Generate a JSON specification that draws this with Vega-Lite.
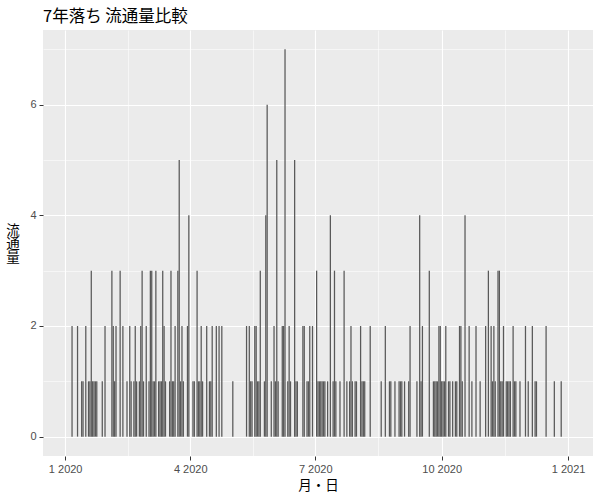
{
  "$schema": "https://vega.github.io/schema/vega-lite/v6.json",
  "width": 550,
  "height": 426,
  "autosize": {"type": "none"},
  "padding": {"left": 43, "top": 30, "right": 7, "bottom": 44},
  "background": "white",
  "config": {
    "view": {"fill": "#EBEBEB", "stroke": null},
    "axis": {"domain": false, "labelColor": "#4D4D4D", "labelFont": "Liberation Sans", "labelFontSize": 11, "tickColor": "#333333", "tickSize": 4, "tickWidth": 1, "gridColor": "white", "titleColor": "black", "titleFont": "Noto Sans CJK JP", "titleFontWeight": "normal"}
  },
  "title": {"text": "7年落ち 流通量比較", "anchor": "start", "frame": "group", "font": "Noto Sans CJK JP", "fontSize": 16.5, "fontWeight": "normal", "color": "black", "baseline": "alphabetic", "offset": 8, "dy": 16},
  "data": {"values": [
    {"d":"2020-01-06","n":2},{"d":"2020-01-10","n":2},{"d":"2020-01-13","n":1},{"d":"2020-01-14","n":1},{"d":"2020-01-16","n":2},
    {"d":"2020-01-18","n":1},{"d":"2020-01-19","n":1},{"d":"2020-01-20","n":3},{"d":"2020-01-21","n":1},{"d":"2020-01-22","n":1},{"d":"2020-01-23","n":1},{"d":"2020-01-24","n":1},
    {"d":"2020-01-28","n":1},{"d":"2020-01-30","n":2},
    {"d":"2020-02-04","n":3},{"d":"2020-02-05","n":2},{"d":"2020-02-06","n":1},{"d":"2020-02-07","n":2},{"d":"2020-02-10","n":3},{"d":"2020-02-12","n":2},
    {"d":"2020-02-15","n":1},{"d":"2020-02-17","n":2},{"d":"2020-02-18","n":1},{"d":"2020-02-20","n":1},{"d":"2020-02-21","n":2},{"d":"2020-02-22","n":1},
    {"d":"2020-02-24","n":1},{"d":"2020-02-25","n":2},{"d":"2020-02-26","n":3},{"d":"2020-02-27","n":1},{"d":"2020-02-29","n":2},
    {"d":"2020-03-02","n":1},{"d":"2020-03-03","n":3},{"d":"2020-03-04","n":3},{"d":"2020-03-05","n":1},{"d":"2020-03-06","n":1},{"d":"2020-03-07","n":3},
    {"d":"2020-03-09","n":1},{"d":"2020-03-10","n":1},{"d":"2020-03-11","n":1},{"d":"2020-03-12","n":3},{"d":"2020-03-13","n":2},{"d":"2020-03-14","n":1},
    {"d":"2020-03-17","n":1},{"d":"2020-03-18","n":3},{"d":"2020-03-19","n":1},{"d":"2020-03-20","n":1},{"d":"2020-03-21","n":2},
    {"d":"2020-03-23","n":3},{"d":"2020-03-24","n":5},{"d":"2020-03-25","n":1},{"d":"2020-03-26","n":2},{"d":"2020-03-27","n":1},
    {"d":"2020-03-30","n":2},{"d":"2020-03-31","n":4},
    {"d":"2020-04-03","n":1},{"d":"2020-04-04","n":1},{"d":"2020-04-06","n":3},{"d":"2020-04-07","n":1},{"d":"2020-04-08","n":1},{"d":"2020-04-09","n":2},{"d":"2020-04-10","n":1},
    {"d":"2020-04-13","n":2},{"d":"2020-04-15","n":1},{"d":"2020-04-16","n":1},{"d":"2020-04-17","n":2},{"d":"2020-04-20","n":2},{"d":"2020-04-22","n":2},{"d":"2020-04-24","n":2},
    {"d":"2020-05-02","n":1},{"d":"2020-05-12","n":2},{"d":"2020-05-14","n":2},{"d":"2020-05-15","n":1},{"d":"2020-05-16","n":1},
    {"d":"2020-05-18","n":2},{"d":"2020-05-19","n":2},{"d":"2020-05-20","n":1},{"d":"2020-05-21","n":1},{"d":"2020-05-22","n":3},
    {"d":"2020-05-25","n":1},{"d":"2020-05-26","n":4},{"d":"2020-05-27","n":6},{"d":"2020-05-30","n":1},
    {"d":"2020-06-01","n":2},{"d":"2020-06-02","n":1},{"d":"2020-06-03","n":5},{"d":"2020-06-04","n":1},
    {"d":"2020-06-07","n":2},{"d":"2020-06-08","n":2},{"d":"2020-06-09","n":7},
    {"d":"2020-06-11","n":1},{"d":"2020-06-12","n":2},{"d":"2020-06-13","n":1},
    {"d":"2020-06-16","n":5},{"d":"2020-06-17","n":1},{"d":"2020-06-18","n":1},
    {"d":"2020-06-22","n":2},{"d":"2020-06-23","n":2},{"d":"2020-06-25","n":1},{"d":"2020-06-26","n":1},{"d":"2020-06-27","n":2},{"d":"2020-06-29","n":2},
    {"d":"2020-07-02","n":3},{"d":"2020-07-03","n":1},{"d":"2020-07-04","n":1},{"d":"2020-07-05","n":1},{"d":"2020-07-06","n":1},{"d":"2020-07-07","n":1},{"d":"2020-07-08","n":1},
    {"d":"2020-07-10","n":1},{"d":"2020-07-12","n":4},{"d":"2020-07-14","n":1},{"d":"2020-07-15","n":3},{"d":"2020-07-16","n":1},
    {"d":"2020-07-19","n":1},{"d":"2020-07-22","n":3},{"d":"2020-07-24","n":1},{"d":"2020-07-26","n":1},{"d":"2020-07-27","n":2},{"d":"2020-07-28","n":1},
    {"d":"2020-07-30","n":1},{"d":"2020-07-31","n":1},
    {"d":"2020-08-03","n":2},{"d":"2020-08-04","n":1},{"d":"2020-08-05","n":1},{"d":"2020-08-06","n":1},{"d":"2020-08-10","n":2},
    {"d":"2020-08-18","n":1},{"d":"2020-08-21","n":2},{"d":"2020-08-24","n":1},{"d":"2020-08-25","n":1},{"d":"2020-08-28","n":1},{"d":"2020-08-31","n":1},
    {"d":"2020-09-01","n":1},{"d":"2020-09-02","n":1},{"d":"2020-09-04","n":1},{"d":"2020-09-07","n":1},{"d":"2020-09-08","n":2},
    {"d":"2020-09-13","n":1},{"d":"2020-09-15","n":4},{"d":"2020-09-16","n":1},{"d":"2020-09-17","n":2},{"d":"2020-09-22","n":3},
    {"d":"2020-09-25","n":1},{"d":"2020-09-26","n":1},{"d":"2020-09-27","n":1},{"d":"2020-09-28","n":1},{"d":"2020-09-29","n":2},{"d":"2020-09-30","n":2},
    {"d":"2020-10-01","n":1},{"d":"2020-10-02","n":1},{"d":"2020-10-03","n":1},{"d":"2020-10-04","n":2},{"d":"2020-10-06","n":1},{"d":"2020-10-07","n":1},
    {"d":"2020-10-09","n":1},{"d":"2020-10-11","n":1},{"d":"2020-10-12","n":1},{"d":"2020-10-14","n":2},{"d":"2020-10-15","n":2},{"d":"2020-10-16","n":1},
    {"d":"2020-10-18","n":4},{"d":"2020-10-21","n":2},{"d":"2020-10-23","n":1},{"d":"2020-10-26","n":2},{"d":"2020-10-29","n":1},
    {"d":"2020-11-02","n":2},{"d":"2020-11-04","n":3},{"d":"2020-11-06","n":2},{"d":"2020-11-07","n":1},{"d":"2020-11-08","n":2},{"d":"2020-11-09","n":1},
    {"d":"2020-11-11","n":3},{"d":"2020-11-12","n":3},{"d":"2020-11-13","n":1},{"d":"2020-11-14","n":1},{"d":"2020-11-15","n":2},
    {"d":"2020-11-17","n":1},{"d":"2020-11-18","n":1},{"d":"2020-11-19","n":1},{"d":"2020-11-20","n":1},{"d":"2020-11-22","n":2},{"d":"2020-11-23","n":1},{"d":"2020-11-24","n":1},
    {"d":"2020-11-27","n":1},
    {"d":"2020-12-01","n":2},{"d":"2020-12-03","n":1},{"d":"2020-12-06","n":2},{"d":"2020-12-08","n":1},{"d":"2020-12-09","n":1},{"d":"2020-12-16","n":2},
    {"d":"2020-12-22","n":1},{"d":"2020-12-27","n":1}
  ]},
  "mark": {"type": "bar", "color": "#595959", "width": 1.26},
  "encoding": {
    "x": {
      "field": "d", "type": "temporal", "title": "月・日",
      "scale": {"type": "utc", "domain": [{"year": 2019, "month": 12, "date": 19, "hours": 12, "utc": true}, {"year": 2021, "month": 1, "date": 15, "hours": 12, "utc": true}], "nice": false},
      "axis": {
        "values": [
          {"year": 2020, "month": 1, "date": 1, "utc": true},
          {"year": 2020, "month": 2, "date": 15, "hours": 12, "utc": true},
          {"year": 2020, "month": 4, "date": 1, "utc": true},
          {"year": 2020, "month": 5, "date": 16, "hours": 12, "utc": true},
          {"year": 2020, "month": 7, "date": 1, "utc": true},
          {"year": 2020, "month": 8, "date": 16, "utc": true},
          {"year": 2020, "month": 10, "date": 1, "utc": true},
          {"year": 2020, "month": 11, "date": 16, "utc": true},
          {"year": 2021, "month": 1, "date": 1, "utc": true}
        ],
        "labelExpr": "utcdate(datum.value) == 1 ? utcFormat(datum.value, '%-m %Y') : ''",
        "labelPadding": 3,
        "labelFlush": false,
        "labelOverlap": false,
        "gridWidth": {"condition": {"test": "utcdate(datum.value) == 1", "value": 1.1}, "value": 0.55},
        "tickOpacity": {"condition": {"test": "utcdate(datum.value) == 1", "value": 1}, "value": 0},
        "titleFontSize": 13.5,
        "titleBaseline": "middle",
        "titleY": 29
      }
    },
    "y": {
      "field": "n", "type": "quantitative", "title": ["流", "通", "量"],
      "scale": {"domain": [-0.35, 7.35], "nice": false, "zero": false},
      "axis": {
        "values": [0, 1, 2, 3, 4, 5, 6, 7],
        "labelExpr": "datum.value % 2 == 0 ? datum.label : ''",
        "labelPadding": 3,
        "labelFlush": false,
        "labelOverlap": false,
        "gridWidth": {"condition": {"test": "datum.value % 2 == 0", "value": 1.1}, "value": 0.55},
        "tickOpacity": {"condition": {"test": "datum.value % 2 == 0", "value": 1}, "value": 0},
        "titleAngle": 0,
        "titleFontSize": 13.5,
        "titleLineHeight": 13.3,
        "titleAlign": "center",
        "titleBaseline": "middle",
        "titleX": -30.5,
        "titleY": 200.5
      }
    },
    "y2": {"datum": 0}
  }
}
